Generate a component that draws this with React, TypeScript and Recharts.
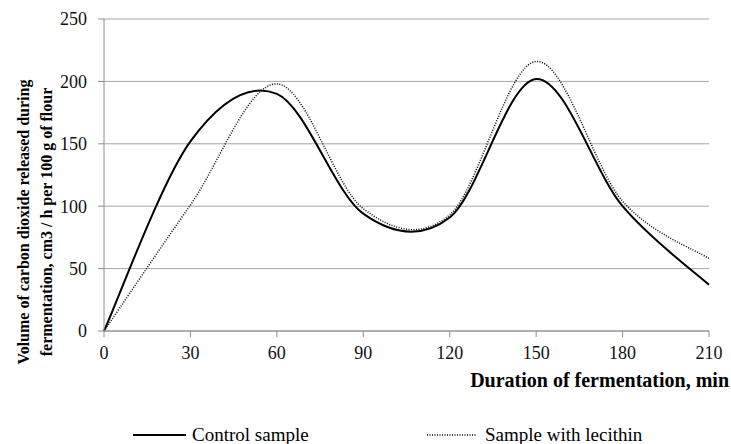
import React from "react";
import { LineChart, Line, XAxis, YAxis, CartesianGrid, Legend } from "recharts";

const minutes = [0, 30, 60, 90, 120, 150, 180, 210];
const controlSample = [0, 152, 190, 94, 91, 202, 100, 37];
const lecithinSample = [0, 101, 198, 98, 93, 216, 104, 58];
const xTicks = [0, 30, 60, 90, 120, 150, 180, 210];
const yTicks = [0, 50, 100, 150, 200, 250];

const data = minutes.map((m, i) => ({
  minute: m,
  control: controlSample[i],
  lecithin: lecithinSample[i],
}));

const FONT = '"Liberation Serif", "Times New Roman", serif';

// smoothed line like the spreadsheet one (Catmull-Rom through every point)
const smoothCurve = (context: any) => {
  let pts: number[][] = [];
  return {
    areaStart() {},
    areaEnd() {},
    lineStart() {
      pts = [];
    },
    point(x: number, y: number) {
      pts.push([x, y]);
    },
    lineEnd() {
      if (!pts.length) return;
      context.moveTo(pts[0][0], pts[0][1]);
      for (let i = 0; i < pts.length - 1; i++) {
        const p0 = pts[i - 1] || pts[i];
        const p1 = pts[i];
        const p2 = pts[i + 1];
        const p3 = pts[i + 2] || p2;
        context.bezierCurveTo(
          p1[0] + (p2[0] - p0[0]) / 6,
          p1[1] + (p2[1] - p0[1]) / 6,
          p2[0] - (p3[0] - p1[0]) / 6,
          p2[1] - (p3[1] - p1[1]) / 6,
          p2[0],
          p2[1]
        );
      }
    },
  };
};

const YTitle = (props: any) => {
  const { viewBox } = props;
  const cy = viewBox.y + viewBox.height / 2 + 47;
  return (
    <text
      transform={`translate(0, ${cy}) rotate(-90)`}
      textAnchor="middle"
      fontFamily={FONT}
      fontWeight="bold"
      fontSize={16}
      fill="#000"
    >
      <tspan x={0} y={29}>Volume of carbon dioxide  released during</tspan>
      <tspan x={0} y={52}>fermentation, cm3 / h per 100 g of flour</tspan>
    </text>
  );
};

const XTitle = (props: any) => {
  const { viewBox } = props;
  return (
    <text
      x={729}
      y={viewBox.y + 56}
      textAnchor="end"
      fontFamily={FONT}
      fontWeight="bold"
      fontSize={20}
      fill="#000"
    >
      Duration of fermentation, min
    </text>
  );
};

const renderLegend = () => (
  <div style={{ position: "relative", height: 20, fontFamily: FONT, fontSize: 19, color: "#000" }}>
    <div style={{ position: "absolute", left: 133, top: 0, display: "flex", alignItems: "center" }}>
      <svg width={54} height={20}>
        <line x1={0} y1={10} x2={53} y2={10} stroke="#000" strokeWidth={2} />
      </svg>
      <span style={{ marginLeft: 5 }}>Control sample</span>
    </div>
    <div style={{ position: "absolute", left: 427, top: 0, display: "flex", alignItems: "center" }}>
      <svg width={50} height={20}>
        <line x1={0} y1={10} x2={49} y2={10} stroke="#000" strokeWidth={1.5} strokeDasharray="1 1.5" />
      </svg>
      <span style={{ marginLeft: 8 }}>Sample with lecithin</span>
    </div>
  </div>
);

export default function App() {
  return (
    <div style={{ position: "absolute", left: 0, top: 0, width: 731, height: 444, background: "#fff" }}>
      <LineChart
        width={731}
        height={444}
        data={data}
        margin={{ top: 19, right: 22, left: 0, bottom: 0 }}
      >
        <CartesianGrid horizontal vertical={false} stroke="#a6a6a6" strokeWidth={1} />
        <XAxis
          dataKey="minute"
          type="number"
          domain={[0, 210]}
          ticks={xTicks}
          height={93}
          stroke="#8c8c8c"
          tickSize={6}
          tick={{ fontFamily: FONT, fontSize: 18, fill: "#111" }}
          tickMargin={9}
          label={<XTitle />}
        />
        <YAxis
          type="number"
          domain={[0, 250]}
          ticks={yTicks}
          width={104}
          stroke="#8c8c8c"
          tickSize={6}
          tick={{ fontFamily: FONT, fontSize: 18, fill: "#111" }}
          tickMargin={11}
          label={<YTitle />}
        />
        <Legend
          verticalAlign="bottom"
          height={20}
          content={renderLegend}
          wrapperStyle={{ left: 0, width: 731 }}
        />
        <Line
          type={smoothCurve as any}
          dataKey="control"
          name="Control sample"
          stroke="#000"
          strokeWidth={2}
          dot={false}
          isAnimationActive={false}
        />
        <Line
          type={smoothCurve as any}
          dataKey="lecithin"
          name="Sample with lecithin"
          stroke="#000"
          strokeWidth={1.5}
          strokeDasharray="1 1.5"
          dot={false}
          isAnimationActive={false}
        />
      </LineChart>
    </div>
  );
}
